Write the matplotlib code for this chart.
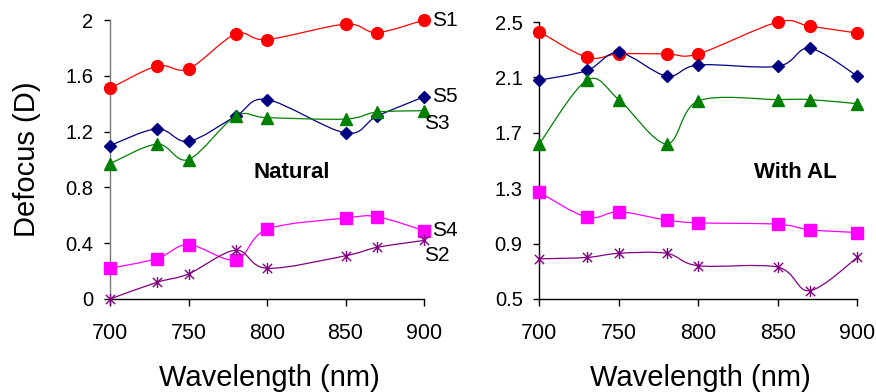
import numpy as np
import matplotlib.pyplot as plt
from matplotlib.path import Path
from matplotlib.patches import PathPatch

plt.rcParams['font.family'] = ['Liberation Sans', 'DejaVu Sans']

wl = [700, 730, 750, 780, 800, 850, 870, 900]

# Natural (left panel)
nat_s1 = [1.51, 1.67, 1.65, 1.90, 1.86, 1.97, 1.91, 2.00]
nat_s5 = [1.10, 1.22, 1.13, 1.31, 1.43, 1.19, 1.31, 1.45]
nat_s3 = [0.97, 1.11, 1.00, 1.31, 1.30, 1.29, 1.34, 1.35]
nat_s4 = [0.22, 0.29, 0.39, 0.28, 0.50, 0.58, 0.59, 0.49]
nat_s2 = [0.00, 0.12, 0.18, 0.35, 0.22, 0.31, 0.37, 0.42]

# With AL (right panel)
al_s1 = [2.43, 2.245, 2.27, 2.27, 2.27, 2.50, 2.47, 2.42]
al_s5 = [2.08, 2.15, 2.28, 2.11, 2.19, 2.18, 2.31, 2.11]
al_s3 = [1.62, 2.08, 1.94, 1.62, 1.93, 1.94, 1.94, 1.91]
al_s4 = [1.27, 1.09, 1.13, 1.07, 1.05, 1.04, 1.00, 0.98]
al_s2 = [0.79, 0.80, 0.83, 0.83, 0.74, 0.73, 0.56, 0.80]

# asterisk marker like Excel's "star"
star = Path([(-1, -1), (1, 1), (-1, 1), (1, -1), (0, -1.2), (0, 1.2)],
            [Path.MOVETO, Path.LINETO, Path.MOVETO, Path.LINETO, Path.MOVETO, Path.LINETO])

styles = {
    'S1': dict(color='#FF0000', marker='o', ms=8.5),
    'S5': dict(color='#000080', marker='D', ms=6),
    'S3': dict(color='#008000', marker='^', ms=8.5),
    'S4': dict(color='#FF00FF', marker='s', ms=8),
    'S2': dict(color='#800080', marker=star, ms=8),
}


def smooth_line(ax, x, y, color):
    # Excel-like smoothed line: Catmull-Rom segments as cubic Beziers
    x = np.asarray(x, float)
    y = np.asarray(y, float)
    pts = np.column_stack([x, y])
    n = len(pts)
    verts = [pts[0]]
    codes = [Path.MOVETO]
    for i in range(n - 1):
        p0 = pts[i - 1] if i > 0 else pts[i]
        p1 = pts[i]
        p2 = pts[i + 1]
        p3 = pts[i + 2] if i + 2 < n else pts[i + 1]
        c1 = p1 + (p2 - p0) / 6
        c2 = p2 - (p3 - p1) / 6
        verts += [c1, c2, p2]
        codes += [Path.CURVE4] * 3
    ax.add_patch(PathPatch(Path(verts, codes), fill=False, ec=color, lw=0.9,
                           clip_on=False))


def draw(ax, series):
    for name, vals in series:
        st = styles[name]
        smooth_line(ax, wl, vals, st['color'])
        if st['marker'] is star:
            ax.plot(wl, vals, ls='none', marker=star, ms=st['ms'], mec=st['color'],
                    mfc='none', mew=1.0, clip_on=False, zorder=3)
        else:
            ax.plot(wl, vals, ls='none', marker=st['marker'], ms=st['ms'],
                    color=st['color'], mec=st['color'], clip_on=False, zorder=3)


fig = plt.figure(figsize=(8.76, 3.92), dpi=100)
W, H = 876, 392

ax1 = fig.add_axes([110 / W, (H - 299) / H, 314 / W, 279 / H])
ax2 = fig.add_axes([539.3 / W, (H - 299) / H, 318 / W, 277 / H])

draw(ax1, [('S1', nat_s1), ('S5', nat_s5), ('S3', nat_s3), ('S4', nat_s4), ('S2', nat_s2)])
draw(ax2, [('S1', al_s1), ('S5', al_s5), ('S3', al_s3), ('S4', al_s4), ('S2', al_s2)])

ax1.set_ylim(0, 2)
ax1.set_yticks([0, 0.4, 0.8, 1.2, 1.6, 2])
ax1.set_yticklabels(['0', '0.4', '0.8', '1.2', '1.6', '2'])
ax2.set_ylim(0.5, 2.5)
ax2.set_yticks([0.5, 0.9, 1.3, 1.7, 2.1, 2.5])
ax2.set_yticklabels(['0.5', '0.9', '1.3', '1.7', '2.1', '2.5'])

for ax in (ax1, ax2):
    ax.set_xlim(700, 900)
    ax.set_xticks([700, 750, 800, 850, 900])
    ax.spines['top'].set_visible(False)
    ax.spines['right'].set_visible(False)
    ax.spines['left'].set_linewidth(1.0)
    ax.spines['bottom'].set_linewidth(1.0)
    ax.tick_params(axis='y', direction='out', length=4, width=1, labelsize=14.5, pad=8)
    ax.tick_params(axis='x', direction='out', length=5, width=1, labelsize=15.5, pad=12)
    ax.patch.set_visible(False)

ax1.spines['left'].set_color('#777777')

# series labels on the left panel
lab = dict(fontsize=15, va='center', ha='left')
ax1.text(905, 2.00, 'S1', **lab)
ax1.text(905, 1.45, 'S5', **lab)
ax1.text(900, 1.26, 'S3', **lab)
ax1.text(905, 0.49, 'S4', **lab)
ax1.text(900, 0.31, 'S2', **lab)

ax1.text(0.58, 0.455, 'Natural', transform=ax1.transAxes, fontsize=16,
         fontweight='bold', ha='center', va='center')
ax2.text(0.805, 0.455, 'With AL', transform=ax2.transAxes, fontsize=16,
         fontweight='bold', ha='center', va='center')

fig.text(269 / W, 1 - 378 / H, 'Wavelength (nm)', fontsize=21, ha='center', va='center')
fig.text(700 / W, 1 - 378 / H, 'Wavelength (nm)', fontsize=21, ha='center', va='center')
fig.text(27 / W, 1 - 159 / H, 'Defocus (D)', fontsize=21, ha='center', va='center',
         rotation=90)

fig.savefig('out.png', dpi=100)
